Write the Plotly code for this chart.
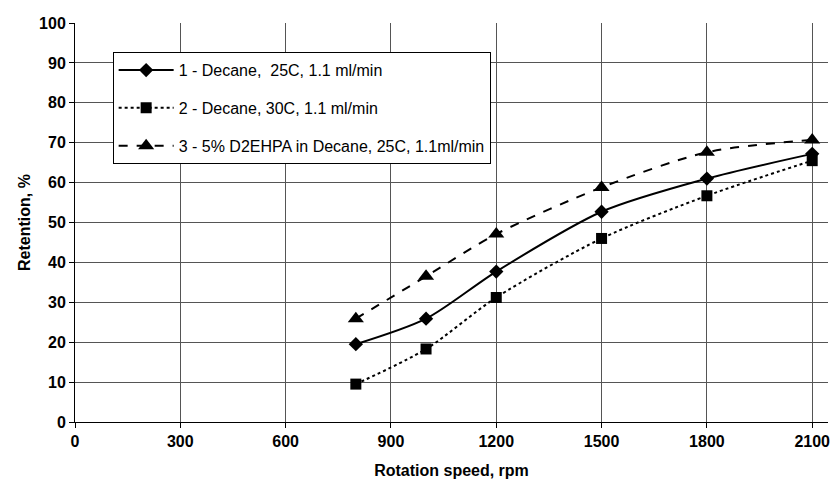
import plotly.graph_objects as go

# Rotation speed (rpm) and retention (%) for the three systems
rpm = [800, 1000, 1200, 1500, 1800, 2100]
decane_25c = [19.5, 25.9, 37.7, 52.7, 61.0, 67.2]
decane_30c = [9.5, 18.3, 31.2, 46.0, 56.7, 65.5]
d2ehpa_25c = [25.9, 36.5, 47.1, 58.8, 67.6, 70.7]

series_names = [
    "1 - Decane,  25C, 1.1 ml/min",
    "2 - Decane, 30C, 1.1 ml/min",
    "3 - 5% D2EHPA in Decane, 25C, 1.1ml/min",
]
x_ticks = [0, 300, 600, 900, 1200, 1500, 1800, 2100]
y_ticks = list(range(0, 101, 10))

FONT = "Liberation Sans, Arial, sans-serif"

fig = go.Figure()

styles = [
    (decane_25c, "solid", "diamond", 11),
    (decane_30c, "dot", "square", 11),
    (d2ehpa_25c, "dash", "triangle-up", 14),
]
for i, (vals, dash, sym, size) in enumerate(styles):
    fig.add_trace(go.Scatter(
        x=rpm, y=vals, name=series_names[i], mode="lines+markers",
        legendgroup=f"g{i}",
        line=dict(color="black", width=2, dash=dash, shape="spline", smoothing=0.8),
        marker=dict(symbol=sym, size=size, color="black"),
    ))

fig.update_layout(
    width=838, height=485,
    margin=dict(l=75, r=8, t=23, b=63),
    paper_bgcolor="white", plot_bgcolor="white",
    font=dict(family=FONT, color="black", size=16),
    showlegend=True,
    legend=dict(
        x=0.05, y=0.927, xanchor="left", yanchor="top",
        bgcolor="white", bordercolor="black", borderwidth=1,
        font=dict(family=FONT, size=16, color="black"),
        tracegroupgap=14, itemwidth=55,
    ),
    xaxis=dict(
        range=[0, 2145], tickvals=x_ticks, ticktext=[str(v) for v in x_ticks],
        showgrid=True, gridcolor="#555", gridwidth=1,
        showline=True, linecolor="black", linewidth=1,
        ticks="outside", ticklen=5, tickcolor="black",
        tickfont=dict(family=FONT, size=16, weight="bold"),
        zeroline=False,
        title=dict(text="Rotation speed, rpm", standoff=15,
                   font=dict(family=FONT, size=16, weight="bold")),
    ),
    yaxis=dict(
        range=[0, 100], tickvals=y_ticks,
        showgrid=True, gridcolor="#555", gridwidth=1,
        showline=True, linecolor="black", linewidth=1,
        ticks="outside", ticklen=5, tickcolor="black",
        tickfont=dict(family=FONT, size=16, weight="bold"),
        zeroline=False,
        title=dict(text="Retention, %", standoff=4,
                   font=dict(family=FONT, size=16, weight="bold")),
    ),
)

fig.write_html("out.html")
